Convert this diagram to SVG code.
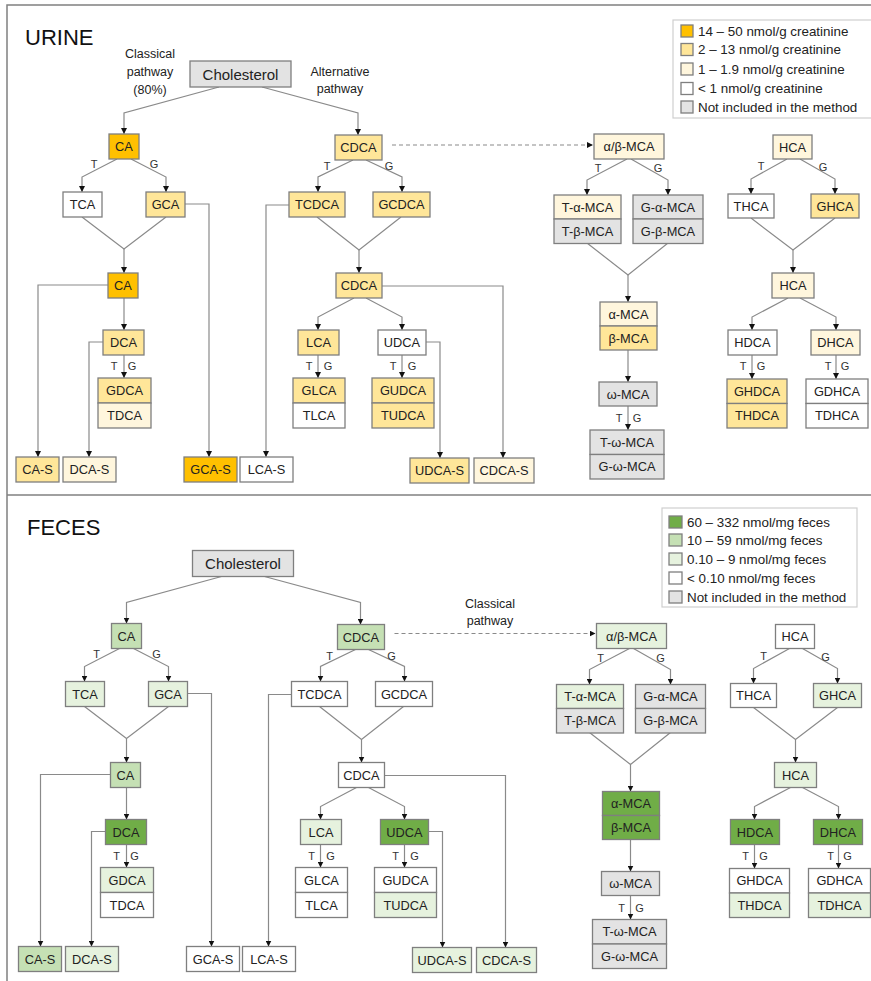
<svg xmlns="http://www.w3.org/2000/svg" width="871" height="981" viewBox="0 0 871 981">
<style>
.t{font-family:"Liberation Sans",Arial,sans-serif;font-size:12.8px;text-anchor:middle;dominant-baseline:central;fill:#222}
.ch{font-size:15px}
.lb{font-family:"Liberation Sans",Arial,sans-serif;font-size:11px;fill:#333;text-anchor:middle;dominant-baseline:central}
.pw{font-family:"Liberation Sans",Arial,sans-serif;font-size:12.5px;fill:#222;text-anchor:middle}
.lg{font-family:"Liberation Sans",Arial,sans-serif;font-size:13.4px;fill:#222;dominant-baseline:central}
.ttl{font-family:"Liberation Sans",Arial,sans-serif;font-size:22px;fill:#111}
rect{stroke:#7f7f7f;stroke-width:1.3}
.c path{fill:none;stroke:#8a8a8a;stroke-width:1.2}
.c .d{stroke-dasharray:4 3}
.o{fill:#FFC000}.y{fill:#FFE699}.l{fill:#FFF6DD}.w{fill:#fff}.g{fill:#E3E3E3}
.G1{fill:#70AD47}.G2{fill:#C5E0B4}.G3{fill:#E6F2DE}
.lgbox{fill:#fff;stroke:#cfcfcf;stroke-width:1.2}
.bg{fill:#fff;stroke:none}
.frame{fill:none;stroke:#808080;stroke-width:1.5}
</style>
<defs>
<marker id="ah" viewBox="0 0 6 6" refX="6" refY="3" markerWidth="6" markerHeight="6" markerUnits="userSpaceOnUse" orient="auto"><path d="M0,0 L6,3 L0,6 z" fill="#111"/></marker>
</defs>
<rect class="bg" x="0" y="0" width="871" height="981"/>
<rect class="frame" x="7" y="5" width="870" height="980"/>
<line x1="7" y1="495" x2="871" y2="495" stroke="#808080" stroke-width="1.5"/>

<!-- URINE -->
<text class="ttl" x="25" y="45">URINE</text>
<text class="pw" x="150" y="58">Classical</text>
<text class="pw" x="150" y="76">pathway</text>
<text class="pw" x="150" y="94">(80%)</text>
<text class="pw" x="340" y="76">Alternative</text>
<text class="pw" x="340" y="93">pathway</text>

<g id="legend-urine">
<rect class="lgbox" x="673" y="20" width="200" height="98"/>
<rect class="o" x="681" y="25" width="12" height="12"/><text class="lg" x="698" y="31">14 – 50 nmol/g creatinine</text>
<rect class="y" x="681" y="43.5" width="12" height="12"/><text class="lg" x="698" y="49.5">2 – 13 nmol/g creatinine</text>
<rect class="l" x="681" y="63" width="12" height="12"/><text class="lg" x="698" y="69">1 – 1.9 nmol/g creatinine</text>
<rect class="w" x="681" y="82.5" width="12" height="12"/><text class="lg" x="698" y="88.5">&lt; 1 nmol/g creatinine</text>
<rect class="g" x="681" y="101" width="12" height="12"/><text class="lg" x="698" y="107">Not included in the method</text>
</g>

<g id="urine-connectors" class="c">
<path marker-end="url(#ah)" d="M219,87 L124,113 L124,134"/>
<path marker-end="url(#ah)" d="M262,87 L358,113 L358,135"/>
<path marker-end="url(#ah)" d="M117,159 L82,177 L82,192"/>
<path marker-end="url(#ah)" d="M131,159 L166,177 L166,192"/>
<path marker-end="url(#ah)" d="M353,160 L318,177 L318,192"/>
<path marker-end="url(#ah)" d="M366,160 L402,177 L402,192"/>
<path d="M82,217 L124,249 L166,217"/>
<path marker-end="url(#ah)" d="M124,249 L124,273"/>
<path marker-end="url(#ah)" d="M185,204 L209,204 L209,457"/>
<path marker-end="url(#ah)" d="M289,205 L266,205 L266,457"/>
<path d="M317,217 L359,250 L401,217"/>
<path marker-end="url(#ah)" d="M359,250 L359,273"/>
<path marker-end="url(#ah)" d="M108,285 L38,285 L38,457"/>
<path marker-end="url(#ah)" d="M124,298 L124,330"/>
<path marker-end="url(#ah)" d="M103,342 L89,342 L89,457"/>
<path marker-end="url(#ah)" d="M124,355 L124,378"/>
<path marker-end="url(#ah)" d="M354,298 L318,317 L318,330"/>
<path marker-end="url(#ah)" d="M366,298 L402,317 L402,330"/>
<path marker-end="url(#ah)" d="M318,355 L318,378"/>
<path marker-end="url(#ah)" d="M402,355 L402,378"/>
<path marker-end="url(#ah)" d="M426,342 L440,342 L440,458"/>
<path marker-end="url(#ah)" d="M382,286 L503,286 L503,458"/>
<path class="d" marker-end="url(#ah)" d="M392,145 L593,145"/>
<path marker-end="url(#ah)" d="M627,159 L587,180 L587,195"/>
<path marker-end="url(#ah)" d="M631,159 L668,180 L668,195"/>
<path d="M587,243 L628,275 L668,243"/>
<path marker-end="url(#ah)" d="M628,275 L628,302"/>
<path marker-end="url(#ah)" d="M628,350 L628,382"/>
<path marker-end="url(#ah)" d="M628,406 L628,430"/>
<path marker-end="url(#ah)" d="M787,159 L751,179 L751,194"/>
<path marker-end="url(#ah)" d="M800,159 L835,179 L835,194"/>
<path d="M751,218 L793,250 L835,218"/>
<path marker-end="url(#ah)" d="M793,250 L793,273"/>
<path marker-end="url(#ah)" d="M788,298 L752,317 L752,330"/>
<path marker-end="url(#ah)" d="M800,298 L836,317 L836,330"/>
<path marker-end="url(#ah)" d="M752,355 L752,379"/>
<path marker-end="url(#ah)" d="M836,355 L836,379"/>
</g>
<g id="urine-labels">
<text class="lb" x="94" y="164">T</text><text class="lb" x="154" y="164">G</text>
<text class="lb" x="327" y="166">T</text><text class="lb" x="389" y="166">G</text>
<text class="lb" x="114" y="366">T</text><text class="lb" x="132" y="366">G</text>
<text class="lb" x="309" y="366">T</text><text class="lb" x="328" y="366">G</text>
<text class="lb" x="393" y="366">T</text><text class="lb" x="412" y="366">G</text>
<text class="lb" x="598" y="168">T</text><text class="lb" x="658" y="168">G</text>
<text class="lb" x="619" y="418">T</text><text class="lb" x="637" y="418">G</text>
<text class="lb" x="761" y="166">T</text><text class="lb" x="823" y="167">G</text>
<text class="lb" x="743" y="366">T</text><text class="lb" x="761" y="366">G</text>
<text class="lb" x="828" y="366">T</text><text class="lb" x="845" y="366">G</text>
</g>

<g id="u-chol"><rect class="g" x="190" y="61" width="101" height="26"/><text class="t ch" x="240.5" y="74">Cholesterol</text></g>
<g id="u-ca"><rect class="o" x="109" y="134" width="30" height="25"/><text class="t" x="124" y="146.5">CA</text></g>
<g id="u-cdca"><rect class="y" x="335" y="135" width="47" height="25"/><text class="t" x="358.5" y="147.5">CDCA</text></g>
<g id="u-tca"><rect class="w" x="63" y="192" width="39" height="25"/><text class="t" x="82.5" y="204.5">TCA</text></g>
<g id="u-gca"><rect class="y" x="146" y="192" width="39" height="25"/><text class="t" x="165.5" y="204.5">GCA</text></g>
<g id="u-tcdca"><rect class="y" x="289" y="192" width="56" height="25"/><text class="t" x="317" y="204.5">TCDCA</text></g>
<g id="u-gcdca"><rect class="y" x="373" y="192" width="57" height="25"/><text class="t" x="401.5" y="204.5">GCDCA</text></g>
<g id="u-ca2"><rect class="o" x="108" y="273" width="30" height="25"/><text class="t" x="123" y="285.5">CA</text></g>
<g id="u-dca"><rect class="y" x="103" y="330" width="41" height="25"/><text class="t" x="123.5" y="342.5">DCA</text></g>
<g id="u-gdca-tdca"><rect class="y" x="98" y="378" width="53" height="25"/><text class="t" x="124.5" y="390.5">GDCA</text><rect class="l" x="98" y="403" width="53" height="25"/><text class="t" x="124.5" y="415.5">TDCA</text></g>
<g id="u-cas"><rect class="y" x="16" y="457" width="43" height="25"/><text class="t" x="37.5" y="469.5">CA-S</text></g>
<g id="u-dcas"><rect class="l" x="63" y="457" width="53" height="25"/><text class="t" x="89.5" y="469.5">DCA-S</text></g>
<g id="u-gcas"><rect class="o" x="184" y="457" width="53" height="25"/><text class="t" x="210.5" y="469.5">GCA-S</text></g>
<g id="u-lcas"><rect class="w" x="240" y="457" width="53" height="25"/><text class="t" x="266.5" y="469.5">LCA-S</text></g>
<g id="u-cdca2"><rect class="y" x="336" y="273" width="46" height="25"/><text class="t" x="359" y="285.5">CDCA</text></g>
<g id="u-lca"><rect class="y" x="298" y="330" width="41" height="25"/><text class="t" x="318.5" y="342.5">LCA</text></g>
<g id="u-udca"><rect class="w" x="378" y="330" width="48" height="25"/><text class="t" x="402" y="342.5">UDCA</text></g>
<g id="u-glca-tlca"><rect class="y" x="293" y="378" width="52" height="25"/><text class="t" x="319" y="390.5">GLCA</text><rect class="w" x="293" y="403" width="52" height="25"/><text class="t" x="319" y="415.5">TLCA</text></g>
<g id="u-gudca-tudca"><rect class="y" x="372" y="378" width="62" height="25"/><text class="t" x="403" y="390.5">GUDCA</text><rect class="y" x="372" y="403" width="62" height="25"/><text class="t" x="403" y="415.5">TUDCA</text></g>
<g id="u-udcas"><rect class="y" x="410" y="458" width="59" height="25"/><text class="t" x="439.5" y="470.5">UDCA-S</text></g>
<g id="u-cdcas"><rect class="l" x="474" y="458" width="60" height="25"/><text class="t" x="504" y="470.5">CDCA-S</text></g>
<g id="u-abmca"><rect class="l" x="594" y="134" width="70" height="25"/><text class="t" x="629" y="146.5">α/β-MCA</text></g>
<g id="u-tamca-tbmca"><rect class="l" x="554" y="195" width="67" height="24"/><text class="t" x="587.5" y="207">T-α-MCA</text><rect class="g" x="554" y="219" width="67" height="24.5"/><text class="t" x="587.5" y="231.3">T-β-MCA</text></g>
<g id="u-gamca-gbmca"><rect class="g" x="633" y="195" width="70" height="24"/><text class="t" x="668" y="207">G-α-MCA</text><rect class="g" x="633" y="219" width="70" height="24.5"/><text class="t" x="668" y="231.3">G-β-MCA</text></g>
<g id="u-amca-bmca"><rect class="l" x="600" y="302" width="57" height="24"/><text class="t" x="628.5" y="314">α-MCA</text><rect class="y" x="600" y="326" width="57" height="24"/><text class="t" x="628.5" y="338">β-MCA</text></g>
<g id="u-wmca"><rect class="g" x="599" y="382" width="58" height="24"/><text class="t" x="628" y="394">ω-MCA</text></g>
<g id="u-twmca-gwmca"><rect class="g" x="590" y="430" width="74" height="24.5"/><text class="t" x="627" y="442.3">T-ω-MCA</text><rect class="g" x="590" y="454.5" width="74" height="24.5"/><text class="t" x="627" y="466.8">G-ω-MCA</text></g>
<g id="u-hca"><rect class="l" x="773" y="135" width="39" height="24"/><text class="t" x="792.5" y="147">HCA</text></g>
<g id="u-thca"><rect class="w" x="728" y="194" width="46" height="24"/><text class="t" x="751" y="206">THCA</text></g>
<g id="u-ghca"><rect class="y" x="811" y="194" width="48" height="24"/><text class="t" x="835" y="206">GHCA</text></g>
<g id="u-hca2"><rect class="l" x="772" y="273" width="42" height="25"/><text class="t" x="793" y="285.5">HCA</text></g>
<g id="u-hdca"><rect class="w" x="728" y="330" width="49" height="25"/><text class="t" x="752.5" y="342.5">HDCA</text></g>
<g id="u-dhca"><rect class="l" x="811" y="330" width="49" height="25"/><text class="t" x="835.5" y="342.5">DHCA</text></g>
<g id="u-ghdca-thdca"><rect class="y" x="727" y="379" width="60" height="24.5"/><text class="t" x="757" y="391.3">GHDCA</text><rect class="y" x="727" y="403.5" width="60" height="24.5"/><text class="t" x="757" y="415.8">THDCA</text></g>
<g id="u-gdhca-tdhca"><rect class="w" x="806" y="379" width="62" height="24.5"/><text class="t" x="837" y="391.3">GDHCA</text><rect class="w" x="806" y="403.5" width="62" height="24.5"/><text class="t" x="837" y="415.8">TDHCA</text></g>

<!-- FECES -->
<text class="ttl" x="27" y="535">FECES</text>
<g id="legend-feces">
<rect class="lgbox" x="662" y="508" width="195" height="99"/>
<rect class="G1" x="669" y="516" width="13" height="12"/><text class="lg" x="687" y="522">60 – 332 nmol/mg feces</text>
<rect class="G2" x="669" y="534" width="13" height="12"/><text class="lg" x="687" y="540">10 – 59 nmol/mg feces</text>
<rect class="G3" x="669" y="553" width="13" height="12"/><text class="lg" x="687" y="559">0.10 – 9 nmol/mg feces</text>
<rect class="w" x="669" y="572" width="13" height="12"/><text class="lg" x="687" y="578">&lt; 0.10 nmol/mg feces</text>
<rect class="g" x="669" y="591" width="13" height="12"/><text class="lg" x="687" y="597">Not included in the method</text>
</g>
<text class="pw" x="490" y="608">Classical</text>
<text class="pw" x="490" y="625">pathway</text>

<g transform="translate(2.5,489.5)">
<g id="feces-connectors" class="c">
<path marker-end="url(#ah)" d="M219,87 L124,113 L124,134"/>
<path marker-end="url(#ah)" d="M262,87 L358,113 L358,135"/>
<path marker-end="url(#ah)" d="M117,159 L82,177 L82,192"/>
<path marker-end="url(#ah)" d="M131,159 L166,177 L166,192"/>
<path marker-end="url(#ah)" d="M353,160 L318,177 L318,192"/>
<path marker-end="url(#ah)" d="M366,160 L402,177 L402,192"/>
<path d="M82,217 L124,249 L166,217"/>
<path marker-end="url(#ah)" d="M124,249 L124,273"/>
<path marker-end="url(#ah)" d="M185,204 L209,204 L209,457"/>
<path marker-end="url(#ah)" d="M289,205 L266,205 L266,457"/>
<path d="M317,217 L359,250 L401,217"/>
<path marker-end="url(#ah)" d="M359,250 L359,273"/>
<path marker-end="url(#ah)" d="M108,285 L38,285 L38,457"/>
<path marker-end="url(#ah)" d="M124,298 L124,330"/>
<path marker-end="url(#ah)" d="M103,342 L89,342 L89,457"/>
<path marker-end="url(#ah)" d="M124,355 L124,378"/>
<path marker-end="url(#ah)" d="M354,298 L318,317 L318,330"/>
<path marker-end="url(#ah)" d="M366,298 L402,317 L402,330"/>
<path marker-end="url(#ah)" d="M318,355 L318,378"/>
<path marker-end="url(#ah)" d="M402,355 L402,378"/>
<path marker-end="url(#ah)" d="M426,342 L440,342 L440,458"/>
<path marker-end="url(#ah)" d="M382,286 L503,286 L503,458"/>
<path class="d" marker-end="url(#ah)" d="M392,144 L593,144"/>
<path marker-end="url(#ah)" d="M627,159 L587,180 L587,195"/>
<path marker-end="url(#ah)" d="M631,159 L668,180 L668,195"/>
<path d="M587,243 L628,275 L668,243"/>
<path marker-end="url(#ah)" d="M628,275 L628,302"/>
<path marker-end="url(#ah)" d="M628,350 L628,382"/>
<path marker-end="url(#ah)" d="M628,406 L628,430"/>
<path marker-end="url(#ah)" d="M787,159 L751,179 L751,194"/>
<path marker-end="url(#ah)" d="M800,159 L835,179 L835,194"/>
<path d="M751,218 L793,250 L835,218"/>
<path marker-end="url(#ah)" d="M793,250 L793,273"/>
<path marker-end="url(#ah)" d="M788,298 L752,317 L752,330"/>
<path marker-end="url(#ah)" d="M800,298 L836,317 L836,330"/>
<path marker-end="url(#ah)" d="M752,355 L752,379"/>
<path marker-end="url(#ah)" d="M836,355 L836,379"/>
</g>
<g id="feces-labels">
<text class="lb" x="94" y="164">T</text><text class="lb" x="154" y="164">G</text>
<text class="lb" x="327" y="166">T</text><text class="lb" x="389" y="166">G</text>
<text class="lb" x="114" y="366">T</text><text class="lb" x="132" y="366">G</text>
<text class="lb" x="309" y="366">T</text><text class="lb" x="328" y="366">G</text>
<text class="lb" x="393" y="366">T</text><text class="lb" x="412" y="366">G</text>
<text class="lb" x="598" y="168">T</text><text class="lb" x="658" y="168">G</text>
<text class="lb" x="619" y="418">T</text><text class="lb" x="637" y="418">G</text>
<text class="lb" x="761" y="166">T</text><text class="lb" x="823" y="167">G</text>
<text class="lb" x="743" y="366">T</text><text class="lb" x="761" y="366">G</text>
<text class="lb" x="828" y="366">T</text><text class="lb" x="845" y="366">G</text>
</g>

<g id="f-chol"><rect class="g" x="190" y="61" width="101" height="26"/><text class="t ch" x="240.5" y="74">Cholesterol</text></g>
<g id="f-ca"><rect class="G2" x="109" y="134" width="30" height="25"/><text class="t" x="124" y="146.5">CA</text></g>
<g id="f-cdca"><rect class="G2" x="335" y="135" width="47" height="25"/><text class="t" x="358.5" y="147.5">CDCA</text></g>
<g id="f-tca"><rect class="G3" x="63" y="192" width="39" height="25"/><text class="t" x="82.5" y="204.5">TCA</text></g>
<g id="f-gca"><rect class="G3" x="146" y="192" width="39" height="25"/><text class="t" x="165.5" y="204.5">GCA</text></g>
<g id="f-tcdca"><rect class="w" x="289" y="192" width="56" height="25"/><text class="t" x="317" y="204.5">TCDCA</text></g>
<g id="f-gcdca"><rect class="w" x="373" y="192" width="57" height="25"/><text class="t" x="401.5" y="204.5">GCDCA</text></g>
<g id="f-ca2"><rect class="G2" x="108" y="273" width="30" height="25"/><text class="t" x="123" y="285.5">CA</text></g>
<g id="f-dca"><rect class="G1" x="103" y="330" width="41" height="25"/><text class="t" x="123.5" y="342.5">DCA</text></g>
<g id="f-gdca-tdca"><rect class="G3" x="98" y="378" width="53" height="25"/><text class="t" x="124.5" y="390.5">GDCA</text><rect class="w" x="98" y="403" width="53" height="25"/><text class="t" x="124.5" y="415.5">TDCA</text></g>
<g id="f-cas"><rect class="G2" x="16" y="457" width="43" height="25"/><text class="t" x="37.5" y="469.5">CA-S</text></g>
<g id="f-dcas"><rect class="G3" x="63" y="457" width="53" height="25"/><text class="t" x="89.5" y="469.5">DCA-S</text></g>
<g id="f-gcas"><rect class="w" x="184" y="457" width="53" height="25"/><text class="t" x="210.5" y="469.5">GCA-S</text></g>
<g id="f-lcas"><rect class="w" x="240" y="457" width="53" height="25"/><text class="t" x="266.5" y="469.5">LCA-S</text></g>
<g id="f-cdca2"><rect class="w" x="336" y="273" width="46" height="25"/><text class="t" x="359" y="285.5">CDCA</text></g>
<g id="f-lca"><rect class="G3" x="298" y="330" width="41" height="25"/><text class="t" x="318.5" y="342.5">LCA</text></g>
<g id="f-udca"><rect class="G1" x="378" y="330" width="48" height="25"/><text class="t" x="402" y="342.5">UDCA</text></g>
<g id="f-glca-tlca"><rect class="w" x="293" y="378" width="52" height="25"/><text class="t" x="319" y="390.5">GLCA</text><rect class="w" x="293" y="403" width="52" height="25"/><text class="t" x="319" y="415.5">TLCA</text></g>
<g id="f-gudca-tudca"><rect class="w" x="372" y="378" width="62" height="25"/><text class="t" x="403" y="390.5">GUDCA</text><rect class="G3" x="372" y="403" width="62" height="25"/><text class="t" x="403" y="415.5">TUDCA</text></g>
<g id="f-udcas"><rect class="G3" x="410" y="458" width="59" height="25"/><text class="t" x="439.5" y="470.5">UDCA-S</text></g>
<g id="f-cdcas"><rect class="G3" x="474" y="458" width="60" height="25"/><text class="t" x="504" y="470.5">CDCA-S</text></g>
<g id="f-abmca"><rect class="G3" x="594" y="134" width="70" height="25"/><text class="t" x="629" y="146.5">α/β-MCA</text></g>
<g id="f-tamca-tbmca"><rect class="G3" x="554" y="195" width="67" height="24"/><text class="t" x="587.5" y="207">T-α-MCA</text><rect class="g" x="554" y="219" width="67" height="24.5"/><text class="t" x="587.5" y="231.3">T-β-MCA</text></g>
<g id="f-gamca-gbmca"><rect class="g" x="633" y="195" width="70" height="24"/><text class="t" x="668" y="207">G-α-MCA</text><rect class="g" x="633" y="219" width="70" height="24.5"/><text class="t" x="668" y="231.3">G-β-MCA</text></g>
<g id="f-amca-bmca"><rect class="G1" x="600" y="302" width="57" height="24"/><text class="t" x="628.5" y="314">α-MCA</text><rect class="G1" x="600" y="326" width="57" height="24"/><text class="t" x="628.5" y="338">β-MCA</text></g>
<g id="f-wmca"><rect class="g" x="599" y="382" width="58" height="24"/><text class="t" x="628" y="394">ω-MCA</text></g>
<g id="f-twmca-gwmca"><rect class="g" x="590" y="430" width="74" height="24.5"/><text class="t" x="627" y="442.3">T-ω-MCA</text><rect class="g" x="590" y="454.5" width="74" height="24.5"/><text class="t" x="627" y="466.8">G-ω-MCA</text></g>
<g id="f-hca"><rect class="w" x="773" y="135" width="39" height="24"/><text class="t" x="792.5" y="147">HCA</text></g>
<g id="f-thca"><rect class="w" x="728" y="194" width="46" height="24"/><text class="t" x="751" y="206">THCA</text></g>
<g id="f-ghca"><rect class="G3" x="811" y="194" width="48" height="24"/><text class="t" x="835" y="206">GHCA</text></g>
<g id="f-hca2"><rect class="G3" x="772" y="273" width="42" height="25"/><text class="t" x="793" y="285.5">HCA</text></g>
<g id="f-hdca"><rect class="G1" x="728" y="330" width="49" height="25"/><text class="t" x="752.5" y="342.5">HDCA</text></g>
<g id="f-dhca"><rect class="G1" x="811" y="330" width="49" height="25"/><text class="t" x="835.5" y="342.5">DHCA</text></g>
<g id="f-ghdca-thdca"><rect class="w" x="727" y="379" width="60" height="24.5"/><text class="t" x="757" y="391.3">GHDCA</text><rect class="G3" x="727" y="403.5" width="60" height="24.5"/><text class="t" x="757" y="415.8">THDCA</text></g>
<g id="f-gdhca-tdhca"><rect class="w" x="806" y="379" width="62" height="24.5"/><text class="t" x="837" y="391.3">GDHCA</text><rect class="G3" x="806" y="403.5" width="62" height="24.5"/><text class="t" x="837" y="415.8">TDHCA</text></g>
</g>
</svg>
